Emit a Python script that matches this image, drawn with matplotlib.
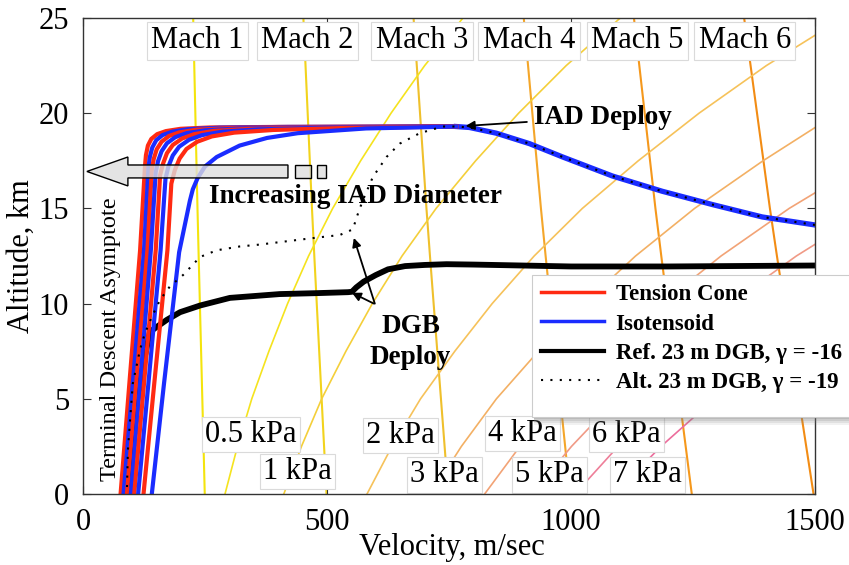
import numpy as np
import matplotlib
matplotlib.use("Agg")
import matplotlib.pyplot as plt
from matplotlib.lines import Line2D
from matplotlib.patches import FancyArrow, Rectangle

plt.rcParams['font.family'] = ['Liberation Serif', 'DejaVu Serif']

# ---- Mars atmosphere table (altitude km, density kg/m^3, speed of sound m/s)
alt_table = [0, 2.5, 5, 7.5, 10, 12.5, 15, 17.5, 20, 22.5, 25]
density_table = [0.01181, 0.00998, 0.00836, 0.00689, 0.00569, 0.00468,
                 0.00382, 0.00309, 0.00251, 0.00204, 0.00165]
sound_speed_table = [249.5, 247.0, 244.5, 242.0, 239.5, 237.0,
                     234.6, 232.4, 230.2, 228.0, 225.8]

mach_numbers = [1, 2, 3, 4, 5, 6]
mach_labels = ['Mach 1', 'Mach 2', 'Mach 3', 'Mach 4', 'Mach 5', 'Mach 6']
q_levels_kpa = [0.5, 1, 2, 3, 4, 5, 6, 7]
q_labels = ['0.5 kPa', '1 kPa', '2 kPa', '3 kPa', '4 kPa', '5 kPa', '6 kPa', '7 kPa']

# ---- Trajectories (velocity m/s, altitude km)
entry_v = [1500, 1392, 1290, 1187, 1085, 983, 915, 847, 792, 765]
entry_h = [14.13, 14.55, 15.2, 15.9, 16.7, 17.7, 18.4, 18.95, 19.25, 19.3]

tc1_v = [765, 400, 260, 200, 170, 152, 140, 133, 129, 127, 117, 95, 77]
tc1_h = [19.3, 19.28, 19.25, 19.18, 19.06, 18.9, 18.65, 18.3, 17.8, 17.2, 12.8, 5.8, 0]
iso1_v = [765, 420, 280, 215, 183, 163, 150, 142, 137, 134, 125, 102, 83]
iso1_h = [19.3, 19.28, 19.24, 19.16, 19.03, 18.85, 18.58, 18.2, 17.7, 17.1, 12.8, 5.8, 0]
tc2_v = [765, 440, 300, 232, 197, 176, 161, 151, 145, 141, 132, 109, 90]
tc2_h = [19.3, 19.27, 19.22, 19.13, 18.99, 18.8, 18.5, 18.1, 17.6, 17.0, 12.8, 5.8, 0]
iso2_v = [765, 460, 320, 250, 212, 189, 172, 161, 154, 149, 139, 117, 98]
iso2_h = [19.3, 19.26, 19.2, 19.1, 18.95, 18.74, 18.42, 18.0, 17.5, 16.9, 12.8, 5.8, 0]
tc3_v = [765, 480, 340, 268, 228, 203, 184, 172, 164, 158, 149, 125, 105]
tc3_h = [19.3, 19.25, 19.18, 19.07, 18.9, 18.67, 18.33, 17.9, 17.35, 16.75, 12.8, 5.8, 0]
iso3_v = [765, 500, 360, 286, 244, 217, 197, 184, 175, 169, 159, 134, 113]
iso3_h = [19.3, 19.24, 19.15, 19.03, 18.85, 18.6, 18.24, 17.78, 17.2, 16.55, 12.8, 5.8, 0]
tc4_v = [765, 530, 390, 310, 264, 234, 212, 198, 188, 181, 173, 146, 124]
tc4_h = [19.3, 19.22, 19.12, 18.98, 18.78, 18.5, 18.12, 17.62, 17.0, 16.3, 12.8, 5.8, 0]
iso4_v = [765, 580, 440, 377, 321, 274, 250, 235, 225, 219, 197, 166, 141]
iso4_h = [19.3, 19.2, 18.95, 18.7, 18.3, 17.7, 17.2, 16.6, 16.0, 15.4, 12.7, 5.8, 0]

ref_dgb_v = [1500, 1200, 1000, 800, 745, 700, 660, 625, 600, 575, 560, 551,
             543, 480, 403, 301, 240, 199, 172, 158, 147, 137, 125, 105, 88]
ref_dgb_h = [12.0, 11.95, 11.95, 12.05, 12.07, 12.03, 11.97, 11.8, 11.5, 11.15,
             10.85, 10.62, 10.6, 10.55, 10.5, 10.3, 9.9, 9.55, 9.15, 8.9, 8.7,
             8.5, 7.0, 4.0, 0.0]

alt_dgb_v = [1500, 1392, 1290, 1187, 1085, 983, 915, 847, 792, 765, 737, 690,
             649, 622, 594, 573, 561, 553, 526, 491, 458, 362, 321, 274, 240,
             205, 178, 158, 141, 127, 117, 102, 92, 90]
alt_dgb_h = [14.13, 14.55, 15.2, 15.9, 16.7, 17.7, 18.4, 18.95, 19.25, 19.3,
             19.3, 18.95, 18.4, 17.7, 16.65, 15.4, 14.55, 13.9, 13.6, 13.5,
             13.4, 13.1, 13.0, 12.8, 12.45, 11.5, 10.9, 10.2, 9.3, 8.45, 7.6,
             5.8, 2.3, 0.2]

# ---- Styling
mach_colors = ['#f4e40c', '#f2d31c', '#efc02c', '#f4a62a', '#f5981c', '#f28c14']
q_colors = ['#f5e31e', '#f4cf3a', '#f6c25a', '#f3b064', '#f2a376', '#f09a86',
            '#ee7f99', '#ec6d9c']
mach_label_v = [235, 460, 695, 914, 1136, 1356]
mach_label_h = 23.8
q_label_v = [344, 440, 651, 741, 900, 956, 1113, 1156]
q_label_h = [3.12, 1.16, 3.05, 1.0, 3.18, 1.0, 3.15, 1.0]
RED = '#ff2a12'
BLUE = '#1a2cff'

fig = plt.figure(figsize=(8.49, 5.65), dpi=100, facecolor='white')
ax = fig.add_axes([83 / 849, 71 / 565, 732 / 849, 476 / 565])

alt = np.array(alt_table)
rho = np.array(density_table)
a = np.array(sound_speed_table)

# Mach lines and dynamic-pressure contours
for n, c in zip(mach_numbers, mach_colors):
    ax.plot(n * a, alt, color=c, lw=1.5, zorder=1)
for q, c in zip(q_levels_kpa, q_colors):
    ax.plot(np.sqrt(2 * q * 1000 / rho), alt, color=c, lw=1.2, zorder=1)

label_box = dict(boxstyle='square,pad=0.15', fc='white', ec='#dadada', lw=0.8)
for lab, v in zip(mach_labels, mach_label_v):
    ax.text(v, mach_label_h, lab, ha='center', va='center', fontsize=22,
            bbox=label_box, zorder=2)
label_box_q = dict(boxstyle='square,pad=0.1', fc='white', ec='#dadada', lw=0.8)
for lab, v, h in zip(q_labels, q_label_v, q_label_h):
    ax.text(v, h, lab, ha='center', va='center', fontsize=22,
            bbox=label_box_q, zorder=2)

# Reference DGB trajectory (drawn beneath the IAD curves)
ax.plot(ref_dgb_v, ref_dgb_h, color='black', lw=4.2, solid_capstyle='butt', zorder=3)

# IAD trajectories
ax.plot(entry_v, entry_h, color=BLUE, lw=3.8, zorder=4)
iad_curves = [(tc1_v, tc1_h, RED), (iso1_v, iso1_h, BLUE),
              (tc2_v, tc2_h, RED), (iso2_v, iso2_h, BLUE),
              (tc3_v, tc3_h, RED), (iso3_v, iso3_h, BLUE),
              (tc4_v, tc4_h, RED), (iso4_v, iso4_h, BLUE)]
for v, h, c in iad_curves:
    ax.plot(v, h, color=c, lw=3.0, zorder=4)

# Alternate DGB trajectory
ax.plot(alt_dgb_v, alt_dgb_h, color='black', lw=1.5, ls=(0, (1.0, 3.5)), zorder=5)

# Increasing-diameter arrow
ax.add_patch(FancyArrow(420, 16.94, -412, 0, width=0.68, head_width=1.52,
                        head_length=84, length_includes_head=True,
                        fc=(0.87, 0.87, 0.87, 0.8), ec='black', lw=1.0, zorder=6))
ax.add_patch(Rectangle((434, 16.6), 33, 0.68, fc=(0.87, 0.87, 0.87, 0.8),
                       ec='black', lw=1.0, zorder=6))
ax.add_patch(Rectangle((479, 16.6), 18, 0.68, fc=(0.87, 0.87, 0.87, 0.8),
                       ec='black', lw=1.0, zorder=6))
ax.text(258, 15.6, 'Increasing IAD Diameter', ha='left', va='center',
        fontsize=19.5, fontweight='bold', zorder=7)

ax.text(57, 8.15, 'Terminal Descent Asymptote', rotation=90, ha='center',
        va='center', fontsize=17.5, zorder=7)

arrow_kw = dict(arrowstyle='-|>', color='black', lw=1.3, mutation_scale=13)
ax.annotate('IAD Deploy', xy=(784, 19.33), xytext=(1065, 19.8), ha='center',
            va='center', fontsize=19.5, fontweight='bold',
            arrowprops=dict(arrow_kw, shrinkA=3, shrinkB=0), zorder=7)
ax.text(671, 8.0, 'DGB\nDeploy', ha='center', va='center', fontsize=19.5,
        fontweight='bold', linespacing=1.3, zorder=7)
ax.annotate('', xy=(551, 10.57), xytext=(596, 10.0),
            arrowprops=dict(arrow_kw, shrinkA=0, shrinkB=0), zorder=7)
ax.annotate('', xy=(555, 13.45), xytext=(598, 10.0),
            arrowprops=dict(arrow_kw, shrinkA=0, shrinkB=0), zorder=7)

# Axes
ax.set_xlim(0, 1500)
ax.set_ylim(0, 25)
ax.set_xticks([0, 500, 1000, 1500])
ax.set_yticks([0, 5, 10, 15, 20, 25])
ax.tick_params(direction='in', top=True, right=True, length=6, width=0.8,
               labelsize=22, pad=10, color='#333333')
for s in ax.spines.values():
    s.set_color('#333333')
    s.set_linewidth(1.0)
    s.set_zorder(8)
ax.set_xlabel('Velocity, m/sec', fontsize=22)
ax.set_ylabel('Altitude, km', fontsize=22)
ax.xaxis.set_label_coords(0.504, -0.082)
ax.yaxis.set_label_coords(-0.065, 0.5)

# Legend panel: runs off the right edge of the figure, soft shadow beneath
panel_x, panel_y, panel_w, panel_h = 532 / 849, 1 - 417 / 565, 340 / 849, 142 / 565
for k, al in enumerate([0.10, 0.14, 0.18, 0.22]):
    off = (8 - 2 * k) / 565
    ax.add_patch(Rectangle((panel_x + 2 / 849, panel_y - off), panel_w, panel_h,
                           transform=fig.transFigure, clip_on=False,
                           fc='#7a7a7a', ec='none', alpha=al, zorder=9))
ax.add_patch(Rectangle((panel_x, panel_y), panel_w, panel_h,
                       transform=fig.transFigure, clip_on=False,
                       fc='white', ec='#cccccc', lw=0.8, zorder=9.5))

handles = [Line2D([], [], color=RED, lw=2.5),
           Line2D([], [], color=BLUE, lw=2.5),
           Line2D([], [], color='black', lw=3.0),
           Line2D([], [], color='black', lw=1.5, ls=(0, (1.0, 3.5)))]
labels = ['Tension Cone', 'Isotensoid',
          'Ref. 23 m DGB, \u03b3 = -16', 'Alt. 23 m DGB, \u03b3 = -19']
leg = ax.legend(handles, labels, loc='upper left',
                bbox_to_anchor=(532 / 849, 1 - 275 / 565),
                bbox_transform=fig.transFigure,
                prop=dict(family='Liberation Serif', weight='bold', size=16.5),
                handlelength=2.75, handletextpad=0.5, labelspacing=0.36,
                borderpad=0.4, borderaxespad=0, frameon=False)
leg.set_zorder(10)

fig.savefig('out.png', dpi=100, facecolor='white')
